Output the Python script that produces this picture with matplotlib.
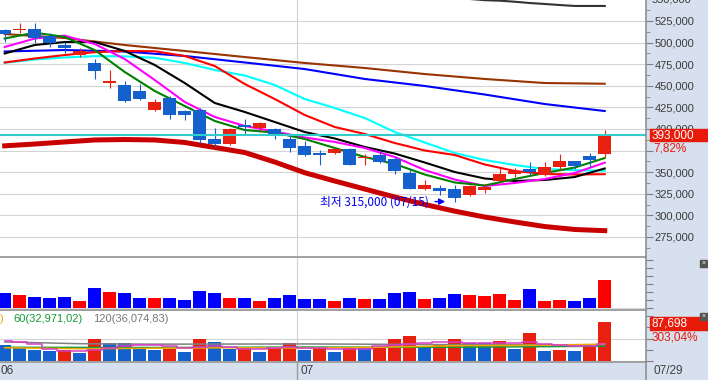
import numpy as np
import matplotlib
matplotlib.use("Agg")
import matplotlib.pyplot as plt
import matplotlib.transforms as mtrans
from matplotlib.patches import Rectangle
from matplotlib.ticker import MultipleLocator, NullLocator

plt.rcParams['font.family'] = ['Liberation Sans', 'DejaVu Sans']

# daily candles, 06 .. 07/29
opens = [514600, 514000, 515700, 507600, 497200, 485600, 476700, 453600, 450900, 444000,
         422000, 435900, 420800, 422000, 388400, 382600, 404600, 401500, 400000, 388400,
         380300, 372600, 371900, 376500, 366100, 370000, 365000, 348700, 330600, 332000,
         330600, 323600, 329400, 339800, 347600, 353700, 346800, 355700, 363000, 368300,
         370700]
highs = [516000, 523000, 523000, 510800, 501000, 494100, 480700, 468300, 455600, 452100,
         434700, 438200, 422000, 424000, 401500, 401500, 411200, 408500, 401500, 393000,
         386500, 375700, 378000, 378000, 370700, 375700, 367900, 353700, 341000, 335200,
         335200, 335200, 336300, 354500, 354500, 361600, 361600, 371100, 363000, 371900,
         398800]
lows = [501000, 510800, 499900, 495300, 488300, 483000, 457900, 447800, 431600, 434000,
        420800, 411200, 410400, 384000, 379500, 382000, 393900, 397000, 388400, 373000,
        368800, 358300, 371000, 358000, 358300, 360300, 347600, 330200, 329400, 323600,
        315000, 323000, 326300, 339000, 344100, 346800, 345600, 352000, 353500, 356400,
        367900]
closes = [509600, 515000, 505000, 499900, 494100, 490600, 467500, 455600, 432800, 434700,
          431300, 416200, 416200, 387300, 382600, 400000, 402500, 406600, 393900, 378400,
          370000, 369600, 376500, 358300, 367200, 362200, 351700, 330600, 335200, 328600,
          320500, 334000, 333200, 347900, 351400, 350600, 355700, 363000, 357500, 364500,
          393000]
month_start = [0, 20]
month_names = ['06', '07']
last_date = '07/29'

# price moving averages (read every 2 / every 4 sessions)
ma_idx_short = list(range(0, 41, 2))
ma5 = [504700, 511500, 506500, 491400, 466000, 444000, 426600, 409300, 398800, 395900, 388400,
       378000, 367600, 359500, 347300, 338100, 334600, 342100, 349100, 355400, 366400]
ma10 = [494900, 504700, 508000, 498400, 481000, 456700, 431300, 413900, 403500, 397100, 390200,
        385000, 378000, 367600, 352500, 341500, 334000, 337500, 342100, 349100, 361000]
ma20 = [487400, 497200, 500700, 500700, 490300, 474100, 453200, 430100, 419700, 408100, 396500,
        389000, 379200, 371600, 361200, 350200, 342700, 339800, 341000, 344400, 354300]
ma_red = [477000, 481600, 485600, 488900, 490300, 490000, 484500, 472900, 452100, 434700, 416200,
          402300, 394200, 383800, 375100, 369900, 358900, 351400, 347900, 347300, 347700]
ma_cyan = [476600, 480400, 482800, 484300, 484100, 482400, 476400, 468300, 461900, 450900, 434700,
           424300, 412700, 396500, 384400, 372200, 364100, 358300, 353700, 352300, 351700]
ma_thick = [380500, 382600, 385000, 387300, 387800, 387300, 384400, 378600, 372800, 361800, 349400,
            339800, 330500, 321300, 312600, 304900, 298100, 292400, 287100, 283700, 282300]
ma_idx_long = list(range(0, 41, 4))
ma_blue = [489700, 491400, 489700, 484500, 477000, 469400, 457900, 449800, 439900, 428900, 420800]
ma_brown = [509900, 505300, 497200, 490300, 483300, 476400, 470600, 463600, 457900, 453200, 452400]
ma_top_idx = list(range(31, 41))
ma_top = [550500, 549100, 548500, 547300, 545800, 544700, 543500, 542400, 542400, 542400]

# upper sub panel (amount) and lower sub panel (volume)
amount = [36800, 31800, 26700, 24300, 26700, 16800, 49300, 39200, 36800, 24300,
          24200, 24300, 19200, 41800, 36700, 24300, 24200, 16800, 24300, 31700,
          21800, 21700, 16800, 24300, 21800, 21700, 36800, 39200, 21700, 24300,
          34200, 31800, 29300, 34200, 19300, 46800, 16700, 19300, 16800, 24200,
          69300]
volume = [34800, 30200, 25000, 22700, 25000, 18900, 50000, 40200, 40000, 27300,
          25000, 27300, 20500, 50000, 43200, 27300, 29500, 20500, 29500, 40900,
          25000, 29500, 20500, 29500, 29000, 29600, 50000, 54600, 29500, 34800,
          50000, 40900, 40500, 45500, 27300, 61400, 22700, 25000, 22700, 36400,
          87698]
vma5 = [45500, 42000, 38600, 27300, 21600, 22700, 23900, 29500, 34100, 34800,
        35200, 34100, 28400, 31800, 33000, 30700, 27300, 26100, 29500, 31800,
        29500, 28400, 26600, 26600, 27300, 34100, 36400, 38600, 40900, 42500,
        42500, 39800, 39800, 40900, 39800, 42500, 38600, 35200, 34100, 34100,
        38600]
vma20_idx = list(range(0, 41, 5))
vma20 = [29500, 27300, 28400, 29500, 28900, 30700, 34100, 34800, 37500]
vma60_idx = [0, 10, 20, 30, 40]
vma60 = [30500, 30000, 31000, 30500, 32971]
vma120_idx = [0, 5, 10, 20, 30, 40]
vma120 = [42500, 38500, 37500, 38000, 36500, 36075]

RED, BLUE = '#e8200f', '#1460cc'
AXBG = '#d6e0ee'
idx = np.arange(len(closes))
ccol = [RED if c >= o else BLUE for o, c in zip(opens, closes)]
acol = ['#ff0000' if c >= o else '#0000ff' for o, c in zip(opens, closes)]
vcol = [BLUE] + [RED if volume[i] > volume[i - 1] else BLUE for i in range(1, len(volume))]

W, H = 708, 380
fig = plt.figure(figsize=(W / 100, H / 100), dpi=100)


def box(x0, y0, x1, y1):
    return [x0 / W, 1 - y1 / H, (x1 - x0) / W, (y1 - y0) / H]


bg = fig.add_axes([0, 0, 1, 1])
bg.set_xlim(0, W)
bg.set_ylim(H, 0)
bg.axis('off')
bg.add_patch(Rectangle((646, 0), W - 646, H, color=AXBG))
bg.add_patch(Rectangle((0, 362), W, H - 362, color=AXBG))

ax = fig.add_axes(box(0, 0, 646, 256))
ax1 = fig.add_axes(box(0, 257, 646, 309))
ax2 = fig.add_axes(box(0, 310, 646, 362))
for a in (ax, ax1, ax2):
    a.set_xlim(-0.313, 42.75)
    for s in a.spines.values():
        s.set_visible(False)
    a.xaxis.set_major_locator(NullLocator())
    a.yaxis.tick_right()
    a.tick_params(axis='y', which='both', direction='out', color='#808080',
                  labelcolor='#3c3c3c', labelsize=8, pad=1)
    a.tick_params(axis='y', which='major', length=5)
    a.tick_params(axis='y', which='minor', length=3)
    a.axvline(19.5, color='#d0d0d0', lw=0.8, zorder=0)

# ---- price panel
ax.set_ylim(253000, 549300)
ticks = list(range(275000, 550000, 25000))
ax.set_yticks(ticks)
# 375,000 sits under the change-rate label
ax.set_yticklabels(['' if t == 375000 else f'{t:,}' for t in ticks])
ax.yaxis.set_minor_locator(MultipleLocator(12500))
for t in ticks:
    ax.axhline(t, color='#d4d4d4', lw=0.8, zorder=0)

ax.plot(ma_idx_short, ma_thick, color='#c80000', lw=3.6, zorder=2)
ax.plot(ma_idx_long, ma_brown, color='#993300', lw=1.5, zorder=2)
ax.plot(ma_idx_long, ma_blue, color='#0000ff', lw=1.5, zorder=2)
ax.plot(ma_idx_short, ma_cyan, color='#00ffff', lw=1.5, zorder=2)
ax.plot(ma_idx_short, ma_red, color='#ff0000', lw=1.5, zorder=2)
ax.plot(ma_idx_short, ma20, color='#000000', lw=1.5, zorder=2)
ax.plot(ma_idx_short, ma10, color='#ff00ff', lw=1.5, zorder=2)
ax.plot(ma_idx_short, ma5, color='#008000', lw=1.5, zorder=2)
ax.plot(ma_top_idx, ma_top, color='#333333', lw=1.5, zorder=2)

ax.vlines(idx, lows, highs, colors=ccol, lw=0.8, zorder=3)
body = [max(abs(c - o), 1200) for o, c in zip(opens, closes)]
ax.bar(idx, body, bottom=np.minimum(opens, closes), width=0.85, color=ccol, zorder=4)

last = closes[-1]
ax.axhline(last, color='#33cccc', lw=1.5, zorder=5)

lo = int(np.argmin(lows))
ax.annotate('', xy=(lo - 0.45, lows[lo] + 1000), xytext=(lo - 1.5, lows[lo] + 1000),
            arrowprops=dict(arrowstyle='-|>', color='#0000ee', lw=1, mutation_scale=9),
            zorder=6)
ax.text(lo - 1.7, lows[lo] + 1000, f'최저 {lows[lo]:,} (07/15)', ha='right', va='center',
        color='#0000ee', fontsize=8.5, family=['Noto Sans CJK KR', 'DejaVu Sans'], zorder=6)

# ---- amount panel
ax1.set_ylim(-3250, 126750)
ax1.bar(idx, amount, width=0.85, color=acol, zorder=3)
ax1.axhline(0, color='#d8d8d8', lw=0.8, zorder=1)
ax1.set_yticks(range(0, 130000, 20000))
ax1.set_yticklabels([])

# ---- volume panel
ax2.set_ylim(-2273, 113650)
ax2.bar(idx, volume, width=0.85, color=vcol, zorder=3)
ax2.axhline(0, color='#d8d8d8', lw=0.8, zorder=1)
ax2.axhline(50000, color='#d4d4d4', lw=0.8, zorder=1)
ax2.plot(vma120_idx, vma120, color='#808080', lw=1.1, zorder=4)
ax2.plot(vma60_idx, vma60, color='#139a3a', lw=1.1, zorder=4)
ax2.plot(vma20_idx, vma20, color='#f0a800', lw=1.1, zorder=4)
ax2.plot(idx, vma5, color='#d83cc8', lw=1.1, drawstyle='steps-mid', zorder=4)
ax2.set_yticks(range(0, 110000, 25000))
ax2.set_yticklabels([])

# ---- frame, labels
fg = fig.add_axes([0, 0, 1, 1])
fg.set_xlim(0, W)
fg.set_ylim(H, 0)
fg.axis('off')
fg.patch.set_alpha(0)
for y in (256.5, 309.5, 362):
    fg.plot([0, 646], [y, y], color='#a0a0a0', lw=1.4)
fg.plot([646, 646], [0, H], color='#909090', lw=1.2)

tx = mtrans.blended_transform_factory(ax.transData, fg.transData)
fg.plot([19.5, 19.5], [362, H], color='#999999', lw=1, transform=tx)
for m, name in zip(month_start, month_names):
    fg.text(m - 0.31, 371, name, transform=tx, ha='left', va='center',
            fontsize=8.5, color='#404040')
fg.text(654, 371, last_date, ha='left', va='center', fontsize=8.5, color='#404040')
fg.text(652, -0.6, '550,000', ha='left', va='center', fontsize=8, color='#3c3c3c')

# current price box
ty = mtrans.blended_transform_factory(fg.transData, ax.transData)
fg.add_patch(Rectangle((650, last - 7000), 60, 14000, color='#e81a0a', transform=ty,
                       clip_on=False))
fg.text(652, last, f'{last:,}', transform=ty, ha='left', va='center', fontsize=8.5,
        color='white')
fg.text(653, 148.5, '7,82%', ha='left', va='center', fontsize=8.5, color='#e81a0a')

# current volume box
fg.add_patch(Rectangle((650, 316.5), 60, 13.5, color='#e81a0a'))
fg.text(652, 323.3, f'{volume[-1]:,}', ha='left', va='center', fontsize=8.5, color='white')
fg.text(652, 337, '303,04%', ha='left', va='center', fontsize=8.5, color='#e81a0a')

# lower panel legend
fg.text(3.5, 318.5, ')', ha='right', va='center', fontsize=8, color='#f0a800')
fg.text(13, 318.5, '60(32,971,02)', ha='left', va='center', fontsize=8, color='#139a3a')
fg.text(93, 318.5, '120(36,074,83)', ha='left', va='center', fontsize=8, color='#787878')

# close buttons
for y in (260, 313):
    fg.add_patch(Rectangle((700, y), 7, 7, color='#555555'))
    fg.text(703.5, y + 3.3, '×', ha='center', va='center', fontsize=5, color='white')

fig.savefig('out.png', dpi=100)
